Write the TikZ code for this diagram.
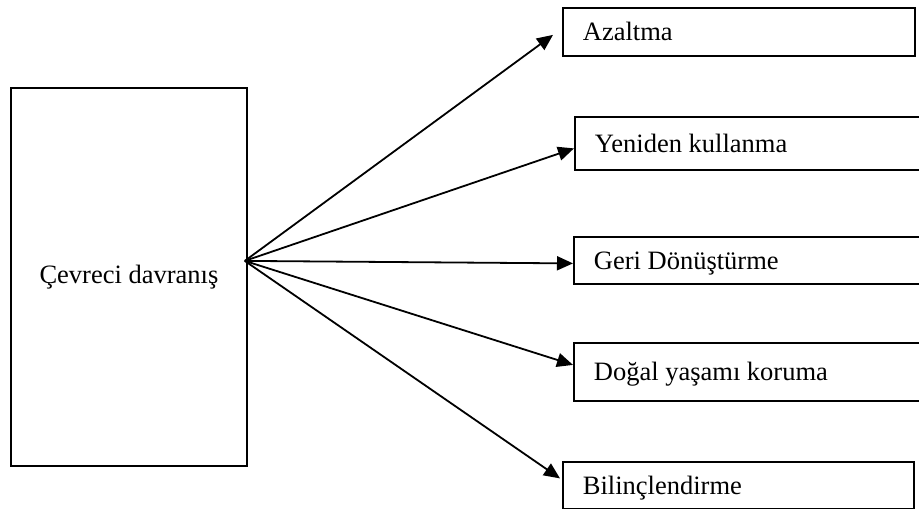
\documentclass[tikz,border=0pt]{standalone}
\usepackage{fontspec}
\setmainfont{Liberation Serif}
\usetikzlibrary{arrows.meta}

\begin{document}
\begin{tikzpicture}[x=1pt,y=-1pt,
  mainbox/.style={draw,line width=1.8pt,anchor=north west,inner sep=0pt,
    minimum width=236pt,minimum height=378pt,font=\fontsize{26.5}{30}\selectfont},
  actbox/.style={draw,line width=1.8pt,anchor=north west,inner xsep=20pt,inner ysep=0pt,
    align=flush left,text height=18pt,text depth=0pt,font=\fontsize{26.5}{30}\selectfont},
  flow/.style={-{Triangle[length=16pt,width=14pt]},line width=1.8pt}]
  \useasboundingbox (0,0) rectangle (919,509);
  \clip (0,0) rectangle (919,509);

  \node[mainbox] (cd) at (10,87) {Çevreci davranış};
  \coordinate (src) at ([xshift=-3pt,yshift=16pt]cd.east);

  \node[actbox,text width=312pt,minimum height=48pt] (az) at (562,7) {Azaltma};
  \node[actbox,text width=330pt,minimum height=53pt] (yk) at (574,116) {Yeniden kullanma};
  \node[actbox,text width=330pt,minimum height=47pt] (gd) at (573,236) {Geri Dönüştürme};
  \node[actbox,text width=330pt,minimum height=58pt] (dy) at (573,342) {Doğal yaşamı koruma};
  \node[actbox,text width=311pt,minimum height=47pt] (bl) at (562,461) {Bilinçlendirme};

  \draw[flow] (src) -- ([xshift=-9pt,yshift=-3pt]az.west);
  \draw[flow] (src) -- ([yshift=-5pt]yk.west);
  \draw[flow] (src) -- ([yshift=-3pt]gd.west);
  \draw[flow] (src) -- ([yshift=7pt]dy.west);
  \draw[flow] (src) -- ([xshift=-2pt,yshift=7pt]bl.west);
\end{tikzpicture}
\end{document}
